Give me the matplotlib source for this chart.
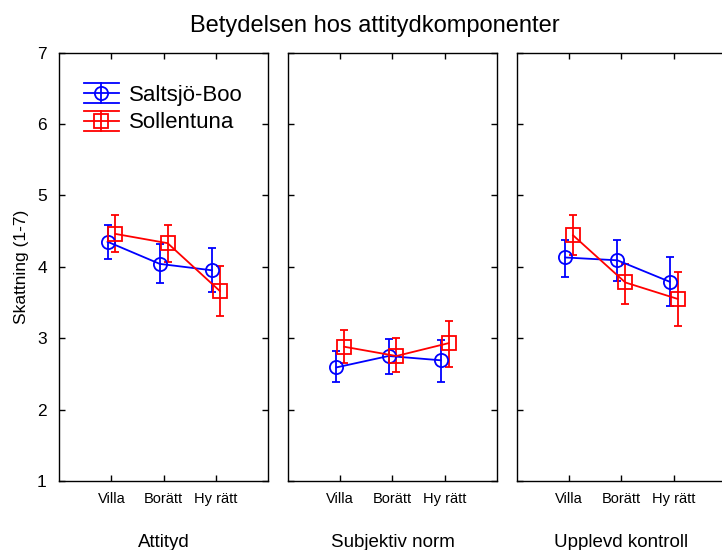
import matplotlib
matplotlib.use("Agg")
import matplotlib.pyplot as plt
from matplotlib.legend_handler import HandlerBase
from matplotlib.lines import Line2D
import numpy as np

plt.rcParams["font.family"] = ["Liberation Sans", "DejaVu Sans"]

# ── Data ────────────────────────────────────────────────────
categories = ["Villa", "Borätt", "Hy rätt"]
panels = ["Attityd", "Subjektiv norm", "Upplevd kontroll"]
groups = ["Saltsjö-Boo", "Sollentuna"]

saltsjo_mean = [[4.35, 4.04, 3.95], [2.59, 2.75, 2.69], [4.13, 4.09, 3.79]]
saltsjo_hi = [[4.58, 4.32, 4.26], [2.82, 2.99, 2.97], [4.38, 4.38, 4.14]]
saltsjo_lo = [[4.11, 3.77, 3.64], [2.39, 2.50, 2.39], [3.86, 3.80, 3.45]]

sollentuna_mean = [[4.46, 4.33, 3.66], [2.88, 2.75, 2.93], [4.44, 3.78, 3.55]]
sollentuna_hi = [[4.72, 4.59, 4.01], [3.12, 3.00, 3.24], [4.72, 4.04, 3.93]]
sollentuna_lo = [[4.21, 4.07, 3.31], [2.65, 2.52, 2.59], [4.16, 3.48, 3.17]]

BLUE = "#0000ff"
RED = "#ff0000"


class ErrorbarLegendHandler(HandlerBase):
    """Legend glyph: long caps, centre line, vertical bar and marker."""

    def create_artists(self, legend, orig_handle, xdescent, ydescent,
                       width, height, fontsize, trans):
        color = orig_handle.get_color()
        marker = orig_handle.get_marker()
        yc = height / 2 - ydescent
        dy = 0.45 * fontsize
        x0, x1 = -xdescent, width - xdescent
        xc = (x0 + x1) / 2
        arts = []
        for yy in (yc - dy, yc, yc + dy):
            arts.append(Line2D([x0, x1], [yy, yy], color=color, lw=1.3))
        arts.append(Line2D([xc, xc], [yc - dy, yc + dy], color=color, lw=1.3))
        arts.append(Line2D([xc], [yc], marker=marker, markersize=9.5,
                           markerfacecolor="none", markeredgecolor=color,
                           markeredgewidth=1.3, linestyle="none"))
        for a in arts:
            a.set_transform(trans)
        return arts


fig = plt.figure(figsize=(7.22, 5.5), dpi=100)

lefts = [0.0821, 0.3989, 0.716]
width = 0.2893
bottom, height = 0.1255, 0.7790
x = np.arange(1, len(categories) + 1)
offset = 0.075

axes = []
for i, name in enumerate(panels):
    ax = fig.add_axes([lefts[i], bottom, width, height])
    axes.append(ax)

    series = [
        (saltsjo_mean[i], saltsjo_lo[i], saltsjo_hi[i], BLUE, "o", -offset),
        (sollentuna_mean[i], sollentuna_lo[i], sollentuna_hi[i], RED, "s", offset),
    ]
    for mean, lo, hi, color, marker, dx in series:
        mean = np.array(mean)
        yerr = [mean - np.array(lo), np.array(hi) - mean]
        ax.errorbar(x + dx, mean, yerr=yerr, color=color, marker=marker,
                    markersize=9.5, markerfacecolor="none",
                    markeredgecolor=color, markeredgewidth=1.3,
                    lw=1.3, elinewidth=1.3, capsize=2.8, capthick=1.3)

    ax.set_xlim(0, 4)
    ax.set_ylim(1, 7)
    ax.set_xticks(x)
    ax.set_xticklabels(categories)
    ax.set_yticks(range(1, 8))
    # last panel runs off the right edge of the figure, so no right ticks
    ax.tick_params(direction="in", top=True, right=(i < 2), length=4,
                   width=1.0, colors="black")
    ax.tick_params(axis="x", labelsize=10.5, pad=8)
    ax.tick_params(axis="y", labelsize=12.5, pad=9)
    if i > 0:
        ax.set_yticklabels([])
    for sp in ax.spines.values():
        sp.set_linewidth(1.0)
    ax.set_xlabel(name, fontsize=13.5, labelpad=20)

axes[0].set_ylabel("Skattning (1-7)", fontsize=12.5, labelpad=6)

handles = [Line2D([], [], color=BLUE, marker="o"),
           Line2D([], [], color=RED, marker="s")]
axes[0].legend(handles, groups, handler_map={Line2D: ErrorbarLegendHandler()},
               loc="upper left", bbox_to_anchor=(0.118, 0.925),
               frameon=False, fontsize=16, handlelength=1.58,
               handletextpad=0.45, labelspacing=0.3, borderpad=0,
               borderaxespad=0)

fig.text(0.519, 0.9424, "Betydelsen hos attitydkomponenter", fontsize=17,
         ha="center", va="baseline")

fig.savefig("out.png", dpi=100)
